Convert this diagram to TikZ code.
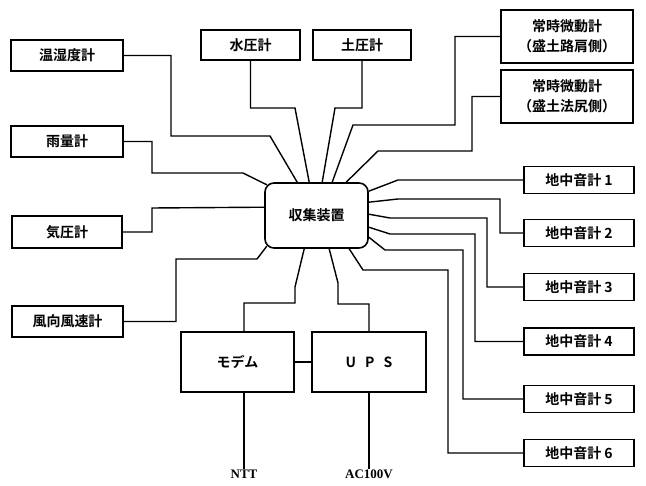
\documentclass[tikz,border=0pt]{standalone}
\usepackage{fontspec}
\newfontfamily\jp{Noto Sans CJK JP Bold}
\newfontfamily\ser{Liberation Serif}
\usetikzlibrary{calc}
\begin{document}
\begin{tikzpicture}[x=1pt,y=-1pt,
 box/.style={draw, line width=1.6pt, inner sep=0pt, font=\jp\fontsize{14}{20}\selectfont, align=center},
 link/.style={line width=1.4pt, line join=miter},
 lbl/.style={font=\ser\bfseries\fontsize{13}{15}\selectfont, inner sep=1pt, anchor=north}]
\useasboundingbox (0,0) rectangle (646,486);
% left column
\node[box, minimum width=112pt, minimum height=31pt] (temp) at (67,55.5) {温湿度計};
\node[box, minimum width=112pt, minimum height=31pt] (rain) at (67,141.5) {雨量計};
\node[box, minimum width=110pt, minimum height=32pt] (baro) at (67,232) {気圧計};
\node[box, minimum width=111pt, minimum height=31pt] (wind) at (67.5,321.5) {風向風速計};
% top row
\node[box, minimum width=99pt, minimum height=30pt] (water) at (250.5,45) {水圧計};
\node[box, minimum width=98pt, minimum height=30pt] (soil) at (362,45) {土圧計};
\node[box, minimum width=132pt, minimum height=53pt] (shoulder) at (567,36.5) {常時微動計\\（盛土路肩側）};
\node[box, minimum width=132pt, minimum height=53pt] (toe) at (567,96.5) {常時微動計\\（盛土法尻側）};
% center
\node[box, rounded corners=9pt, minimum width=103pt, minimum height=65pt] (c) at (316.5,215.5) {収集装置};
% right column
\node[box, minimum width=110pt, minimum height=27pt] (g1) at (579,180) {地中音計 1};
\node[box, minimum width=110pt, minimum height=27pt] (g2) at (579,233) {地中音計 2};
\node[box, minimum width=110pt, minimum height=27pt] (g3) at (579,287) {地中音計 3};
\node[box, minimum width=110pt, minimum height=27pt] (g4) at (579,341.5) {地中音計 4};
\node[box, minimum width=110pt, minimum height=27pt] (g5) at (579,399) {地中音計 5};
\node[box, minimum width=110pt, minimum height=27pt] (g6) at (579,453) {地中音計 6};
% bottom
\node[box, minimum width=113pt, minimum height=60pt] (modem) at (237.5,362) {モデム};
\node[box, minimum width=114pt, minimum height=60pt] (ups) at (369,362) {U\hspace{9pt}P\hspace{9pt}S};
\node[lbl] (ntt) at (244,469) {NTT};
\node[lbl] (ac) at (369,469) {AC100V};
% connectors
\draw[link] (temp.east) -- (171,55.5) -- (171,136) -- (270,136) -- ($(c.north west)+(33,0)$);
\draw[link] (water.south) -- (250.5,108) -- (295,108) -- ($(c.north west)+(45,0)$);
\draw[link] (soil.south) -- (362,108) -- (335,108) -- ($(c.north west)+(58,0)$);
\draw[link] (shoulder.west) -- (455,36.5) -- (455,125) -- (353,125) -- ($(c.north west)+(68,0)$);
\draw[link] (toe.west) -- (472,96.5) -- (472,151) -- (378,151) -- ($(c.north west)+(82,0)$);
\draw[link] (rain.east) -- (152,141.5) -- (152,173) -- (243,173) -- ($(c.north west)+(2.6,2.6)$);
\draw[link] (baro.east) -- (152,232) -- (152,208) -- ($(c.north west)+(0,25)$);
\draw[link] (wind.east) -- (176,321.5) -- (176,259) -- (257,259) -- ($(c.south west)+(2.6,-2.6)$);
\draw[link] ($(c.north east)+(0,9)$) -- (398,180) -- (g1.west);
\draw[link] ($(c.north east)+(0,20)$) -- (398,199) -- (500,199) -- (500,233) -- (g2.west);
\draw[link] ($(c.north east)+(0,32)$) -- (390,218) -- (487,218) -- (487,287) -- (g3.west);
\draw[link] ($(c.north east)+(0,45)$) -- (390,234) -- (475,234) -- (475,341.5) -- (g4.west);
\draw[link] ($(c.north east)+(0,55)$) -- (385,250) -- (463,250) -- (463,399) -- (g5.west);
\draw[link] ($(c.south west)+(85,0)$) -- (363,270) -- (448,270) -- (448,453) -- (g6.west);
\draw[link] ($(c.south west)+(40,0)$) -- (295,287) -- (295,303) -- (244,303) -- ($(modem.north)+(6.5,0)$);
\draw[link] ($(c.south west)+(65,0)$) -- (338,283) -- (338,304) -- (369,304) -- (ups.north);
\draw[link] (modem.east) -- (ups.west);
\draw[link] ($(modem.south)+(6.5,0)$) -- (ntt.north);
\draw[link] (ups.south) -- (ac.north);
\end{tikzpicture}
\end{document}
